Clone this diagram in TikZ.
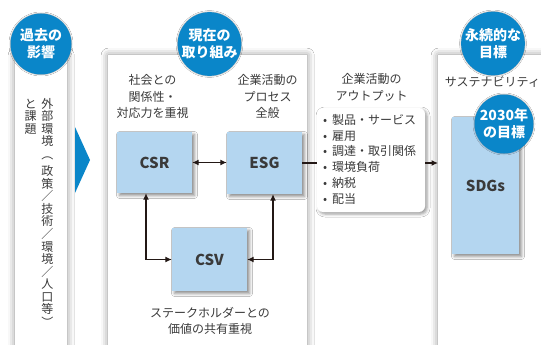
\documentclass[tikz,border=0pt]{standalone}
\usepackage{fontspec}
\usepackage{graphicx}
\setmainfont{Noto Sans CJK JP}
\usetikzlibrary{arrows.meta,shadows.blur}
\definecolor{cblue}{HTML}{0A86C9}
\definecolor{lblue}{HTML}{B4D6F0}
\definecolor{txt}{HTML}{3A3A3A}
\definecolor{arr}{HTML}{231815}
\makeatletter
\newcommand\tatetext[1]{\vbox{\offinterlineskip\@tfor\tt@ch:=#1\do{\hbox to 12.5pt{\hss\vrule height 10pt depth 2.5pt width 0pt\tt@ch\hss}}}}
\makeatother
\newcommand\vlp{\raisebox{4pt}{\rotatebox[origin=c]{-90}{（}}}
\newcommand\vrp{\raisebox{4pt}{\rotatebox[origin=c]{-90}{）}}}
\tikzset{
  panel/.style={fill=white,draw=none,anchor=north west,inner sep=0pt,
    blur shadow={shadow xshift=0pt,shadow yshift=0pt,shadow blur radius=7pt,shadow opacity=45}},
  bubble/.style={circle,fill=cblue,text=white,inner sep=0pt,align=center,
    font=\fontsize{14}{17}\selectfont\bfseries,
    blur shadow={shadow xshift=0pt,shadow yshift=0pt,shadow blur radius=1.5pt,shadow opacity=40}},
  lbox/.style={fill=lblue,draw=none,inner sep=0pt,text=txt,
    font=\fontsize{15}{18}\selectfont\bfseries,
    blur shadow={shadow xshift=2.5pt,shadow yshift=-2.5pt,shadow blur radius=3pt,shadow opacity=45}},
  lbl/.style={text=txt,align=center,inner sep=0pt,font=\fontsize{12}{16.3}\selectfont},
  conn/.style={draw=arr,line width=1.2pt,>={Latex[length=6.5pt,width=6pt]}},
}
\begin{document}
\begin{tikzpicture}[x=1pt,y=-1pt]
\useasboundingbox (0,0) rectangle (541,345);
\fill[white] (0,0) rectangle (541,345);
% panels
\node[panel,minimum width=52pt,minimum height=300pt] (lp) at (15,55) {};
\node[panel,minimum width=199pt,minimum height=300pt] (mp) at (108,55) {};
\node[panel,minimum width=130pt,minimum height=300pt] (rp) at (438,55) {};
% triangle arrow
\fill[cblue] (75,127) -- (90,160) -- (75,193) -- cycle;
% bubbles
\node[bubble,minimum size=61pt] (b1) at (41,44) {過去の\\影響};
\node[bubble,minimum size=63pt] (b2) at (209.5,44) {現在の\\取り組み};
\node[bubble,minimum size=62pt] (b3) at (493,43.5) {永続的な\\目標};
% vertical text
\node[inner sep=0pt,anchor=north,text=txt,font=\fontsize{12}{12.5}\selectfont] (vt1) at (47.5,98) {\tatetext{外部環境{\vlp}政策／技術／環境／人口等{\vrp}}};
\node[inner sep=0pt,anchor=north,text=txt,font=\fontsize{12}{12.5}\selectfont] (vt2) at (30.5,98) {\tatetext{と課題}};
% middle labels
\node[lbl] (t1) at (152.5,96.5) {社会との\\関係性・\\対応力を重視};
\node[lbl] (t2) at (267.5,96.5) {企業活動の\\プロセス\\全般};
\node[lbl] (t3) at (210,321) {ステークホルダーとの\\価値の共有重視};
\node[lbl] (t4) at (371.5,87.5) {企業活動の\\アウトプット};
\node[lbl] (t5) at (492.5,82) {サステナビリティ};
% boxes
\node[lbl,lbox,minimum width=75pt,minimum height=61pt] (CSR) at (154.5,162.5) {CSR};
\node[lbl,lbox,minimum width=75pt,minimum height=62pt] (ESG) at (264.5,163) {ESG};
\node[lbl,lbox,minimum width=75pt,minimum height=63pt] (CSV) at (209.5,259.5) {CSV};
\node[lbl,lbox,minimum width=67pt,minimum height=137pt] (SDG) at (485.5,185.5) {SDGs};
\node[bubble,minimum size=59pt] (b4) at (504,124) {2030年\\の目標};
% output box
\node[fill=white,rounded corners=6pt,minimum width=108pt,minimum height=104pt,inner sep=0pt,
  blur shadow={shadow xshift=2pt,shadow yshift=-2pt,shadow blur radius=3pt,shadow opacity=40}] (out) at (371,160) {};
\node[anchor=north west,inner sep=0pt,align=left,text=txt,font=\fontsize{12}{15.8}\selectfont] (lst) at (323,114)
 {\makebox[9pt][l]{•}製品・サービス\\\makebox[9pt][l]{•}雇用\\\makebox[9pt][l]{•}調達・取引関係\\\makebox[9pt][l]{•}環境負荷\\\makebox[9pt][l]{•}納税\\\makebox[9pt][l]{•}配当};
% connectors
\draw[conn,<->] (CSR.east) -- (CSR.east -| ESG.west);
\draw[conn,<->] ([xshift=-8.5pt]CSR.south) |- (CSV.west);
\draw[conn,<->] ([xshift=8.5pt]ESG.south) |- (CSV.east);
\draw[conn] (ESG.east) -- (ESG.east -| out.west);
\draw[conn,->] (out.east |- ESG.east) -- (ESG.east -| rp.west);
\end{tikzpicture}
\end{document}
